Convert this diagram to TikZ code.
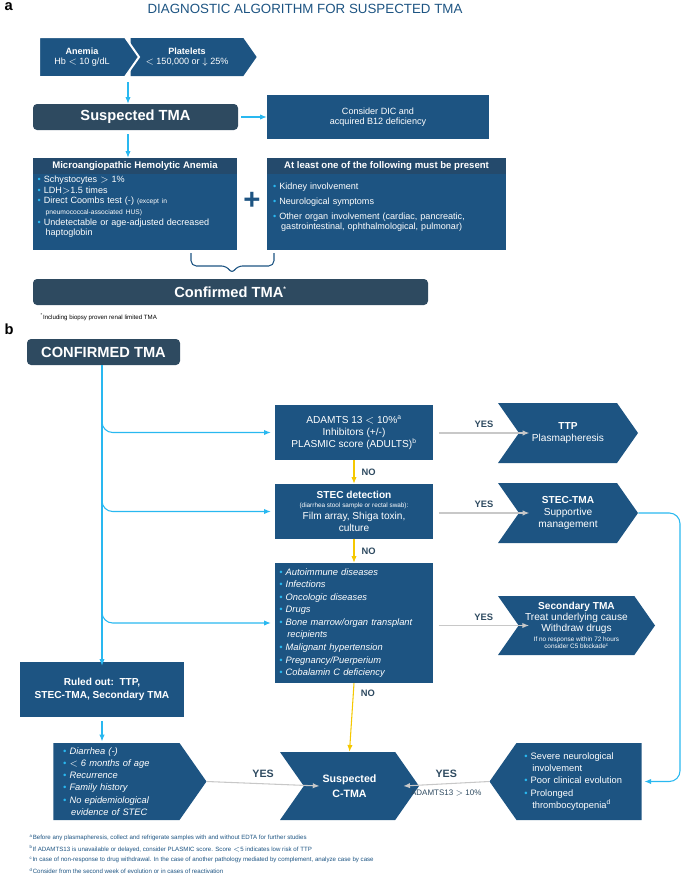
\documentclass[tikz,border=0pt]{standalone}
\usepackage{fontspec}
\setmainfont{Liberation Sans}
\usetikzlibrary{arrows.meta, positioning, shapes.symbols}
\definecolor{tmablue}{HTML}{1D5482}
\definecolor{tmaslate}{HTML}{2E4A60}
\definecolor{tmahead}{HTML}{244A6C}
\definecolor{tmacyan}{HTML}{29B8F0}
\definecolor{tmayellow}{HTML}{F5C800}
\definecolor{tmagray}{HTML}{C8C8C8}
\newcommand{\bul}{\textcolor{tmacyan}{\textbullet}~}
\tikzset{
  box/.style={fill=tmablue, text=white, align=center, inner sep=2pt, font=\fontsize{6.8}{8}\selectfont},
  slate/.style={fill=tmaslate, text=white, rounded corners=3pt, font=\fontsize{11}{13}\selectfont\bfseries},
  chev/.style={box, shape=signal, signal pointer angle=110},
  cyanarrow/.style={draw=tmacyan, thick, -{Latex[length=5pt,width=4pt]}},
  noarrow/.style={draw=tmayellow, thick, -{Latex[length=5pt,width=4pt]}},
  yesarrow/.style={draw=tmagray, thick, -{Latex[length=5pt,width=4pt]}},
  lbl/.style={font=\fontsize{7}{8}\selectfont\bfseries, text=tmaslate},
  foot/.style={anchor=west, font=\fontsize{4.6}{5}\selectfont, text=tmablue},
}
\begin{document}
\begin{tikzpicture}[x=0.75pt, y=-0.75pt]
  \useasboundingbox (0,0) rectangle (685,875);
  % panel a
  \node[font=\fontsize{11}{12}\bfseries, anchor=north west] (pa) at (0,-2) {a};
  \node[text=tmablue, font=\fontsize{10}{12}\selectfont] (title) at (305,9) {DIAGNOSTIC ALGORITHM FOR SUSPECTED TMA};
  \node[chev, signal to=east, minimum width=94.5pt, minimum height=28.5pt] (plt) at (187,57)
    {\textbf{Platelets}\\ $<$ 150,000 or $\downarrow$ 25\%};
  \node[chev, signal to=east, draw=white, line width=1.5pt, minimum width=75pt, minimum height=30pt] (anemia) at (82,57)
    {\textbf{Anemia}\\ Hb $<$ 10 g/dL};
  \node[slate, minimum width=153.75pt, minimum height=19.5pt] (susp) at (135.5,117) {Suspected TMA};
  \node[box, minimum width=166.5pt, minimum height=33pt] (dic) at (378,117) {Consider DIC and\\ acquired B12 deficiency};
  \node[box, minimum width=153pt, minimum height=69pt, align=left, text width=146pt] (maha) at (135,204)
    {\\[1pt]
     \bul Schystocytes $>$ 1\%\\
     \bul LDH$>$1.5 times\\
     \bul Direct Coombs test (-) {\fontsize{5}{6}\selectfont(except in}\\
     \hspace*{6pt}{\fontsize{5}{6}\selectfont pneumococcal-associated HUS)}\\
     \bul Undetectable or age-adjusted decreased\\
     \hspace*{6pt}haptoglobin};
  \node[fill=tmahead, text=white, anchor=north, minimum width=153pt, minimum height=12pt, inner sep=1pt,
    font=\fontsize{7.2}{8}\selectfont\bfseries] (mahahead) at (maha.north) {Microangiopathic Hemolytic Anemia};
  \node[box, minimum width=179.25pt, minimum height=69pt, align=left, text width=170pt] (least) at (386.5,204)
    {\\[2pt]
     \bul Kidney involvement\\[3pt]
     \bul Neurological symptoms\\[3pt]
     \bul Other organ involvement (cardiac, pancreatic,\\
     \hspace*{6pt}gastrointestinal, ophthalmological, pulmonar)\\[2pt]};
  \node[fill=tmahead, text=white, anchor=north, minimum width=179.25pt, minimum height=12pt, inner sep=1pt,
    font=\fontsize{7.2}{8}\selectfont\bfseries] (leasthead) at (least.north) {At least one of the following must be present};
  \node[text=tmablue, font=\fontsize{22}{22}\selectfont\bfseries] (plus) at (252,201) {+};
  \node[slate, minimum width=296.25pt, minimum height=19.5pt] (conf) at (230.5,292) {Confirmed TMA\textsuperscript{\tiny *}};
  \node[anchor=west, font=\fontsize{4.6}{5}\selectfont] (fna) at (36,317) {\textsuperscript{*}Including biopsy proven renal limited TMA};
  \coordinate (bracetip) at (232,274);
  \draw[cyanarrow] (anemia.south -| 128,0) ++(0,4) coordinate (a1) (a1) -- (susp.north -| a1);
  \draw[cyanarrow] (susp.east) ++(3,0) coordinate (s1) (s1) -- (dic.west);
  \draw[cyanarrow] (susp.south -| 128,0) ++(0,4) coordinate (s2) (s2) -- (mahahead.north -| s2);
  \draw[tmablue, thick, rounded corners=4pt] (191,253) |- (227,266) -- (bracetip) -- (237,266) -| (274,253);
  % panel b
  \node[font=\fontsize{11}{12}\bfseries, anchor=north west] (pb) at (0,319) {b};
  \node[slate, minimum width=114.75pt, minimum height=19.5pt] (cmt) at (103.5,352) {CONFIRMED TMA};
  \node[box, minimum width=118.5pt, minimum height=41.25pt, font=\fontsize{7.6}{9}\selectfont] (adamts) at (354,432.5)
    {ADAMTS 13 $<$ 10\%\textsuperscript{\tiny a}\\ Inhibitors (+/-)\\ PLASMIC score (ADULTS)\textsuperscript{\tiny b}};
  \node[box, minimum width=118.5pt, minimum height=41.25pt, font=\fontsize{7.6}{9}\selectfont] (stec) at (354,511.5)
    {\textbf{STEC detection}\\[-2pt] {\fontsize{4.8}{5}\selectfont (diarrhea stool sample or rectal swab):}\\ Film array, Shiga toxin,\\ culture};
  \node[box, minimum width=118.5pt, minimum height=90pt, align=left, text width=112pt, font=\fontsize{7}{9.4}\selectfont\itshape] (causes) at (354,623)
    {\bul Autoimmune diseases\\ \bul Infections\\ \bul Oncologic diseases\\ \bul Drugs\\ \bul Bone marrow/organ transplant\\
     \hspace*{6pt}recipients\\ \bul Malignant hypertension\\ \bul Pregnancy/Puerperium\\ \bul Cobalamin C deficiency};
  \node[chev, signal from=west, signal to=east, minimum width=105pt, minimum height=45pt, font=\fontsize{7.6}{9}\selectfont] (ttp) at (568,433)
    {\textbf{TTP}\\ Plasmapheresis};
  \node[chev, signal from=west, signal to=east, minimum width=105pt, minimum height=45pt, font=\fontsize{7.6}{9}\selectfont] (stectma) at (568,513)
    {\textbf{STEC-TMA}\\ Supportive\\ management};
  \node[chev, signal from=west, signal to=east, minimum width=117.75pt, minimum height=44.25pt, font=\fontsize{7.6}{8.4}\selectfont] (sectma) at (576.5,625.5)
    {\textbf{Secondary TMA}\\ Treat underlying cause\\ Withdraw drugs\\[-1pt]
     {\fontsize{4.8}{5}\selectfont If no response within 72 hours}\\[-3pt] {\fontsize{4.8}{5}\selectfont consider C5 blockade\textsuperscript{c}}};
  \node[box, minimum width=123pt, minimum height=41.25pt, font=\fontsize{7.6}{10}\selectfont\bfseries] (ruled) at (102,689.5)
    {Ruled out:\ \ TTP,\\ STEC-TMA, Secondary TMA};
  \node[chev, signal to=east, minimum width=114.75pt, minimum height=57.75pt, align=left, text width=80pt,
    font=\fontsize{7}{9.2}\selectfont\itshape] (diarr) at (116.5,781.5)
    {\bul Diarrhea (-)\\ \bul $<$ 6 months of age\\ \bul Recurrence\\ \bul Family history\\ \bul No epidemiological\\ \hspace*{6pt}evidence of STEC};
  \node[chev, signal from=west and east, minimum width=104.25pt, minimum height=51pt, font=\fontsize{8}{11}\selectfont\bfseries] (ctma) at (349.5,786)
    {Suspected\\ C-TMA};
  \node[chev, signal to=west, minimum width=114pt, minimum height=57.75pt, align=left, text width=82pt,
    font=\fontsize{7}{9.2}\selectfont] (severe) at (579,781.5)
    {\bul Severe neurological\\ \hspace*{6pt}involvement\\ \bul Poor clinical evolution\\ \bul Prolonged\\ \hspace*{6pt}thrombocytopenia\textsuperscript{\tiny d}};
  % trunk and branches
  \coordinate (br1) at (102,415);
  \coordinate (br2) at (102,493);
  \coordinate (br3) at (102,605);
  \draw[cyanarrow] (cmt.south -| br1) -- ([yshift=-3pt]ruled.north -| br1);
  \foreach \b/\t in {br1/adamts, br2/stec, br3/causes}
    \draw[cyanarrow, rounded corners=8pt] (\b) |- ([xshift=-3pt]\t.west |- \t.west);
  \draw[cyanarrow] ([yshift=-3pt]ruled.south) -- ([yshift=1pt]diarr.north -| ruled.south);
  \draw[cyanarrow, rounded corners=8pt] (stectma.east) -- (680,513) |- ([xshift=2pt]severe.east);
  % decisions
  \draw[noarrow] (adamts.south) -- (stec.north) node[lbl, midway, right=2pt] {NO};
  \draw[noarrow] (stec.south) -- (causes.north) node[lbl, midway, right=2pt] {NO};
  \draw[noarrow] (causes.south) -- (ctma.north) node[lbl, pos=0.15, right=2pt] {NO};
  \draw[yesarrow] ([xshift=4pt]adamts.east |- ttp.west) -- ([xshift=8pt]ttp.west) node[lbl, midway, above] {YES};
  \draw[yesarrow] ([xshift=4pt]stec.east |- stectma.west) -- ([xshift=8pt]stectma.west) node[lbl, midway, above] {YES};
  \draw[yesarrow] ([xshift=4pt]causes.east |- sectma.west) -- ([xshift=8pt]sectma.west) node[lbl, midway, above] {YES};
  \draw[yesarrow] (diarr.east) -- ([xshift=12pt]ctma.west) node[lbl, midway, above=1pt, font=\fontsize{8}{9}\selectfont\bfseries] {YES};
  \draw[yesarrow] (severe.west) -- ([xshift=-12pt]ctma.east)
    node[lbl, midway, above=1pt, font=\fontsize{8}{9}\selectfont\bfseries] {YES}
    node[midway, below=1pt, text=tmaslate, font=\fontsize{6}{7}\selectfont] {ADAMTS13 $>$ 10\%};
  % footnotes
  \node[foot] (fn1) at (25,838) {\textsuperscript{a}Before any plasmapheresis, collect and refrigerate samples with and without EDTA for further studies};
  \node[foot] (fn2) at (25,849) {\textsuperscript{b}If ADAMTS13 is unavailable or delayed, consider PLASMIC score. Score $<$5 indicates low risk of TTP};
  \node[foot] (fn3) at (25,860) {\textsuperscript{c}In case of non-response to drug withdrawal. In the case of another pathology mediated by complement, analyze case by case};
  \node[foot] (fn4) at (25,871) {\textsuperscript{d}Consider from the second week of evolution or in cases of reactivation};
\end{tikzpicture}
\end{document}
